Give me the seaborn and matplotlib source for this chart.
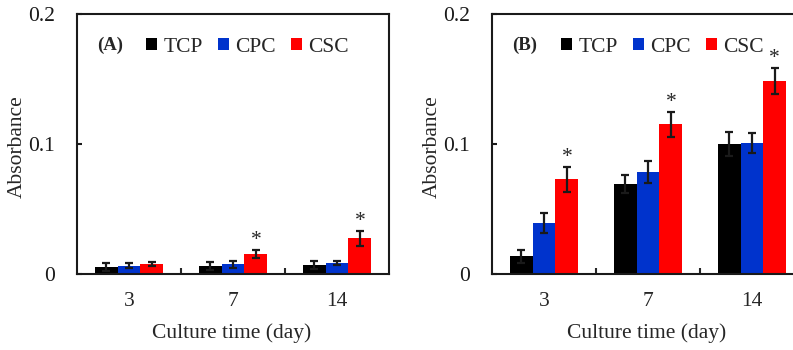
import numpy as np
import pandas as pd
import matplotlib
matplotlib.use("Agg")
import matplotlib.pyplot as plt
import seaborn as sns
from matplotlib.ticker import FixedLocator

# --- datos ---
dias = ["3", "7", "14"]
grupos = ["TCP", "CPC", "CSC"]
colores = ["#000000", "#0033CC", "#FF0000"]

# Panel (A)
a_tcp = [0.0056, 0.0060, 0.0067]
a_cpc = [0.0064, 0.0074, 0.0087]
a_csc = [0.0080, 0.0156, 0.0274]
a_tcp_err = [0.0030, 0.0030, 0.0030]
a_cpc_err = [0.0020, 0.0025, 0.0015]
a_csc_err = [0.0015, 0.0032, 0.0060]
a_estrella = [False, True, True]

# Panel (B)
b_tcp = [0.0138, 0.0690, 0.0997]
b_cpc = [0.0390, 0.0785, 0.1008]
b_csc = [0.0730, 0.1151, 0.1485]
b_tcp_err = [0.0050, 0.0070, 0.0092]
b_cpc_err = [0.0077, 0.0087, 0.0074]
b_csc_err = [0.0096, 0.0095, 0.0102]
b_estrella = [True, True, True]

sns.set_theme(style="white")
plt.rcParams['font.family'] = ['Liberation Serif', 'DejaVu Serif']

FS = 15.5


def panel(ax, letra, medias, errores, estrellas):
    filas = []
    for g, vals in zip(grupos, medias):
        for d, v in zip(dias, vals):
            filas.append({"dia": d, "grupo": g, "abs": v})
    df = pd.DataFrame(filas)

    sns.barplot(data=df, x="dia", y="abs", hue="grupo", order=dias,
                hue_order=grupos, palette=colores, saturation=1,
                errorbar=None, width=0.66, linewidth=0, ax=ax)

    # barras de error y asteriscos
    barras = list(ax.containers)
    for i, cont in enumerate(barras):
        xs = [b.get_x() + b.get_width() / 2 for b in cont]
        hs = [b.get_height() for b in cont]
        ax.errorbar(xs, hs, yerr=errores[i], fmt='none', ecolor='k',
                    elinewidth=1.6, capsize=2.8, capthick=1.6, zorder=5)
        if grupos[i] == "CSC":
            for x, h, e, s in zip(xs, hs, errores[i], estrellas):
                if s:
                    ax.text(x, h + e + 0.0035, "*", ha='center', va='baseline',
                            fontsize=FS)

    ax.set_ylim(0, 0.2)
    ax.set_xlim(-0.5, 2.5)
    ax.set_yticks([0, 0.1, 0.2])
    ax.set_yticklabels(["0", "0.1", "0.2"])
    ax.xaxis.set_minor_locator(FixedLocator([0.5, 1.5]))
    ax.tick_params(axis='y', direction='in', length=3.8, width=1.5, pad=16,
                   labelsize=FS, colors='k', left=True)
    ax.tick_params(axis='x', which='major', length=0, pad=13, labelsize=FS)
    ax.tick_params(axis='x', which='minor', direction='in', length=4.5,
                   width=1.5, bottom=True)
    for sp in ax.spines.values():
        sp.set_visible(True)
        sp.set_color('k')
        sp.set_linewidth(1.5)

    ax.set_xlabel("Culture time (day)", fontsize=FS)
    ax.set_ylabel("Absorbance", fontsize=FS)
    ax.xaxis.set_label_coords(0.495, -0.188)
    ax.yaxis.set_label_coords(-0.162, 0.49)

    handles, labels = ax.get_legend_handles_labels()
    ax.legend(handles, labels, loc='center left', bbox_to_anchor=(0.222, 0.872),
              ncol=3, frameon=False, fontsize=FS, handlelength=0.5,
              handleheight=0.5, handletextpad=0.3, columnspacing=0.7,
              borderpad=0, borderaxespad=0)
    ax.text(0.064, 0.88, letra, transform=ax.transAxes, ha='left',
            va='center', fontsize=13.5, fontweight='bold')


fig = plt.figure(figsize=(7.93, 3.5), dpi=100)
ax_a = fig.add_axes([0.0971, 0.2171, 0.3934, 0.7429])
ax_b = fig.add_axes([0.6204, 0.2171, 0.3934, 0.7429])

panel(ax_a, "(A)", [a_tcp, a_cpc, a_csc], [a_tcp_err, a_cpc_err, a_csc_err],
      a_estrella)
panel(ax_b, "(B)", [b_tcp, b_cpc, b_csc], [b_tcp_err, b_cpc_err, b_csc_err],
      b_estrella)

fig.savefig("out.png", dpi=100)
